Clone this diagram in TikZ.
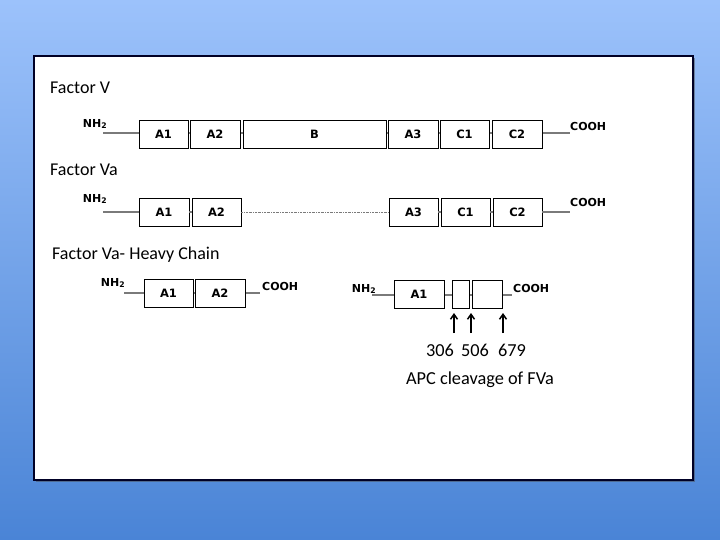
\documentclass[tikz,border=0pt]{standalone}
\usepackage{fontspec}
\setmainfont{Carlito}
\newfontfamily\boxfont{DejaVu Sans Bold}
\usetikzlibrary{arrows.meta}
\definecolor{bgtop}{HTML}{9CC2FB}
\definecolor{bgbot}{HTML}{4A84D6}
\definecolor{linegray}{HTML}{7A7A7A}
\tikzset{
  dom/.style={draw=black, line width=0.9pt, fill=white, minimum height=28pt, inner sep=0pt,
    font=\boxfont\fontsize{11.5}{13}\selectfont},
  term/.style={font=\boxfont\fontsize{11}{13}\selectfont, inner sep=0pt},
  title/.style={font=\fontsize{18}{20}\selectfont, anchor=west, inner sep=0pt},
  conn/.style={draw=linegray, line width=1.1pt},
  gapline/.style={draw=linegray, line width=0.7pt, dash pattern=on 2pt off 1pt on 0.5pt off 1pt},
  cut/.style={draw=black, line width=1.5pt, -{Straight Barb[length=5pt,width=7pt]}},
  num/.style={font=\fontsize{18.3}{20}\selectfont, inner sep=0pt}
}
\begin{document}
\begin{tikzpicture}[x=1pt,y=-1pt]
\useasboundingbox (0,0) rectangle (720,540);
\shade[top color=bgtop, bottom color=bgbot] (0,0) rectangle (720,540);
\fill[black!70, opacity=0.5] (36,58) rectangle (695,482);
\draw[fill=white, draw=black!85!blue, line width=1.2pt] (34,56) rectangle (693,480);

% Titles
\node[title] (t1) at (50,88) {Factor V};
\node[title] (t2) at (50,170) {Factor Va};
\node[title] (t3) at (52,255) {Factor Va- Heavy Chain};

% Row 1: Factor V
\coordinate (n1) at (103,133);
\coordinate (c1) at (570,133);
\draw[conn] (n1) -- (c1);
\node[dom, minimum width=49pt] (r1a1) at (163.5,134) {A1};
\node[dom, minimum width=50pt] (r1a2) at (215,134) {A2};
\node[dom, minimum width=143pt] (r1b) at (314.5,134) {B};
\node[dom, minimum width=50pt] (r1a3) at (413,134) {A3};
\node[dom, minimum width=49pt] (r1c1) at (464.5,134) {C1};
\node[dom, minimum width=50pt] (r1c2) at (517,134) {C2};
\node[term] (r1nh) at (95,124) {NH\textsubscript{2}};
\node[term, anchor=west] (r1co) at (570,126) {COOH};

% Row 2: Factor Va
\coordinate (n2) at (103,212);
\coordinate (c2) at (570,212);
\node[dom, minimum width=50pt] (r2a1) at (164,212) {A1};
\node[dom, minimum width=49pt] (r2a2) at (216.5,212) {A2};
\node[dom, minimum width=49pt] (r2a3) at (413.5,212) {A3};
\node[dom, minimum width=49pt] (r2c1) at (465.5,212) {C1};
\node[dom, minimum width=49pt] (r2c2) at (517.5,212) {C2};
\draw[conn] (n2) -- (r2a1.west);
\draw[conn] (r2a1.east) -- (r2a2.west);
\draw[gapline] (r2a2.east) -- (r2a3.west);
\draw[conn] (r2a3.east) -- (r2c1.west);
\draw[conn] (r2c1.east) -- (r2c2.west);
\draw[conn] (r2c2.east) -- (c2);
\node[term] (r2nh) at (95,199) {NH\textsubscript{2}};
\node[term, anchor=west] (r2co) at (570,202) {COOH};

% Row 3 left: heavy chain
\coordinate (n3) at (124,293);
\coordinate (c3) at (260,293);
\draw[conn] (n3) -- (c3);
\node[dom, minimum width=49pt] (r3a1) at (168.5,293) {A1};
\node[dom, minimum width=50pt] (r3a2) at (220,293) {A2};
\node[term] (r3nh) at (113,283) {NH\textsubscript{2}};
\node[term, anchor=west] (r3co) at (262,286) {COOH};

% Row 3 right: APC cleavage
\coordinate (n4) at (372,295);
\coordinate (c4) at (512,295);
\draw[conn] (n4) -- (c4);
\node[dom, minimum width=50pt] (r4a1) at (419,294.5) {A1};
\node[dom, minimum width=17pt] (r4b2) at (460.5,294.5) {};
\node[dom, minimum width=30pt] (r4b3) at (487,294.5) {};
\node[term] (r4nh) at (364,289) {NH\textsubscript{2}};
\node[term, anchor=west] (r4co) at (513,288) {COOH};

% Cleavage arrows
\coordinate (p1) at (454,333);
\coordinate (q1) at (454,313);
\coordinate (p2) at (471,333);
\coordinate (q2) at (471,313);
\coordinate (p3) at (503,333);
\coordinate (q3) at (503,313);
\draw[cut] (p1) -- (q1);
\draw[cut] (p2) -- (q2);
\draw[cut] (p3) -- (q3);
\node[num] (s1) at (440,350) {306};
\node[num] (s2) at (475,350) {506};
\node[num] (s3) at (512,350) {679};
\node[num] (apc) at (480,380) {APC cleavage of FVa};
\end{tikzpicture}
\end{document}
